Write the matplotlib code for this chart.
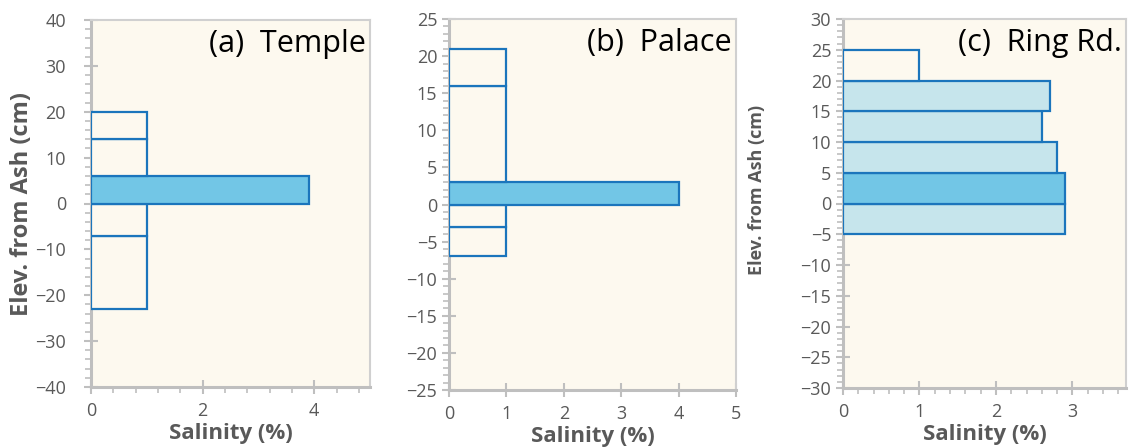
import matplotlib
matplotlib.use("Agg")
import matplotlib.pyplot as plt
from matplotlib.ticker import MultipleLocator

plt.rcParams['font.family'] = ['Open Sans', 'DejaVu Sans']

# Panel (a) Temple
a_bottoms = [-23, -7, 0, 6, 14]
a_tops = [-7, 0, 6, 14, 20]
a_vals = [1, 1, 3.9, 1, 1]
a_fill = ['none', 'none', 'main', 'none', 'none']

# Panel (b) Palace
b_bottoms = [-7, -3, 0, 3, 16]
b_tops = [-3, 0, 3, 16, 21]
b_vals = [1, 1, 4, 1, 1]
b_fill = ['none', 'none', 'main', 'none', 'none']

# Panel (c) Ring Rd.
c_bottoms = [-5, 0, 5, 10, 15, 20]
c_tops = [0, 5, 10, 15, 20, 25]
c_vals = [2.9, 2.9, 2.8, 2.6, 2.7, 1.0]
c_fill = ['light', 'main', 'light', 'light', 'light', 'none']

titles = ['(a)  Temple', '(b)  Palace', '(c)  Ring Rd.']

BG = '#FDF9EF'
EDGE = '#1B75BC'
FILLS = {'none': BG, 'main': '#72C6E6', 'light': '#C6E5EC'}
GRAY = '#595959'
SPINE = '#BFBFBF'

fig = plt.figure(figsize=(11.37, 4.47), dpi=100)
H = 447.0
W = 1137.0
boxes = [(91, 370, 20, 387), (449, 736, 19, 390), (843, 1126, 19, 388)]
axes = []
for (l, r, t, b) in boxes:
    axes.append(fig.add_axes([l / W, 1 - b / H, (r - l) / W, (b - t) / H]))

data = [(a_bottoms, a_tops, a_vals, a_fill),
        (b_bottoms, b_tops, b_vals, b_fill),
        (c_bottoms, c_tops, c_vals, c_fill)]
xlims = [(0, 5), (0, 5), (0, 3.7)]
ylims = [(-40, 40), (-25, 25), (-30, 30)]
xmaj = [2, 1, 1]
xmin = [0.4, None, 0.2]
ymaj = [10, 5, 5]
ymin = [2, 1, 1]
ypads = [13, 3.5, 3.5]

for i, ax in enumerate(axes):
    bots, tops, vals, fills = data[i]
    ax.set_facecolor(BG)
    heights = [t - b for b, t in zip(bots, tops)]
    ax.barh(bots, vals, height=heights, align='edge',
            color=[FILLS[f] for f in fills], edgecolor=EDGE, linewidth=1.6, zorder=3)
    ax.set_xlim(*xlims[i])
    ax.set_ylim(*ylims[i])
    ax.xaxis.set_major_locator(MultipleLocator(xmaj[i]))
    if xmin[i]:
        ax.xaxis.set_minor_locator(MultipleLocator(xmin[i]))
    ax.yaxis.set_major_locator(MultipleLocator(ymaj[i]))
    ax.yaxis.set_minor_locator(MultipleLocator(ymin[i]))
    for s in ['left', 'bottom']:
        ax.spines[s].set_color(SPINE)
        ax.spines[s].set_linewidth(2.2)
    for s in ['top', 'right']:
        ax.spines[s].set_color('#D0D0D0')
        ax.spines[s].set_linewidth(1.5)
    ax.tick_params(which='major', direction='inout', length=10, width=1.5,
                   color=SPINE, labelcolor=GRAY, labelsize=13)
    ax.tick_params(which='minor', direction='out', length=4, width=1.2, color=SPINE)
    ax.tick_params(axis='x', which='major', pad=6)
    ax.tick_params(axis='y', which='major', pad=ypads[i])
    ax.set_xlabel('Salinity (%)', fontsize=16, fontweight='bold', color=GRAY)
    ax.xaxis.set_label_coords(0.5, -0.098)
    ax.text(0.985, 0.975, titles[i], transform=ax.transAxes, ha='right', va='top',
            fontsize=22, color='black', zorder=5)

axes[0].set_ylabel('Elev. from Ash (cm)', fontsize=17, fontweight='bold', color=GRAY)
axes[0].yaxis.set_label_coords(-0.205, 0.5)
axes[2].set_ylabel('Elev. from Ash (cm)', fontsize=13, fontweight='bold', color=GRAY)
axes[2].yaxis.set_label_coords(-0.272, 0.537)

fig.savefig('out.png', dpi=100)
